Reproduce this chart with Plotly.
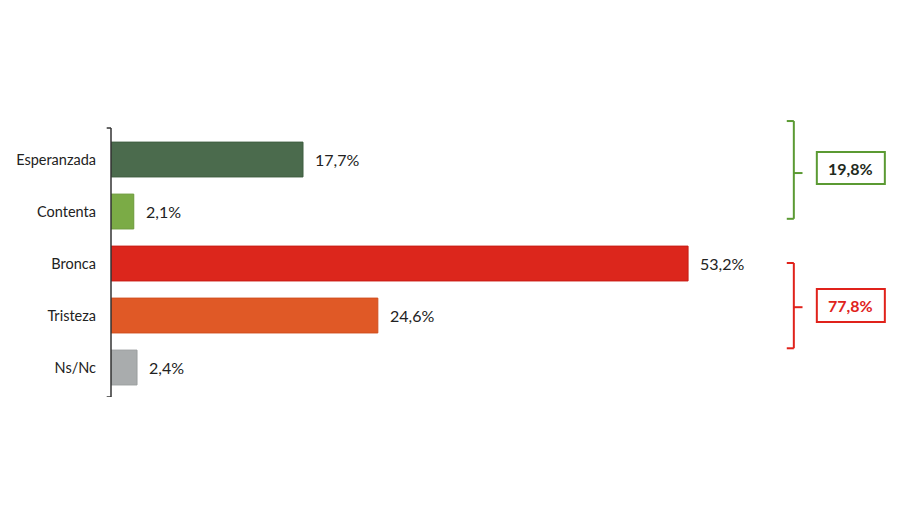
import plotly.graph_objects as go

categories = ["Esperanzada", "Contenta", "Bronca", "Tristeza", "Ns/Nc"]
values = [17.7, 2.1, 53.2, 24.6, 2.4]
colors = ["#4b6b4d", "#7bab46", "#dc261c", "#e05926", "#a9acad"]
outlines = ["#3f5e41", "#6c9a3a", "#c81c14", "#d04e1e", "#9a9d9e"]
group_labels = ["19,8%", "77,8%"]
group_colors = ["#5b9a33", "#e0221b"]
group_text_colors = ["#1f2a20", "#e0221b"]

FONT = "Lato"
ypos = list(range(len(categories)))

fig = go.Figure()
fig.add_trace(go.Bar(
    x=values, y=ypos, orientation="h",
    marker=dict(color=colors, line=dict(color=outlines, width=1)),
    width=0.67, hoverinfo="skip",
))

for v, y in zip(values, ypos):
    fig.add_annotation(x=v, y=y, xref="x", yref="y", text=f"{v:.1f}%".replace(".", ","),
                       showarrow=False, xanchor="left", xshift=10,
                       font=dict(family=FONT, size=16, color="#222222"))

# axis bracket "]"
shapes = []
axc = "#333333"
ytop, ybot = -0.606, 4.567
shapes.append(dict(type="line", xref="paper", yref="y", x0=0, x1=0, y0=ytop, y1=ybot, line=dict(color=axc, width=1.5)))
for yy in (ytop, ybot):
    shapes.append(dict(type="line", xref="paper", yref="y", x0=-0.0055, x1=0, y0=yy, y1=yy, line=dict(color=axc, width=1.5)))

# group braces and boxes
groups = [
    dict(y0=-0.74, y1=1.14, ym=0.26, by0=-0.144, by1=0.471),
    dict(y0=1.99, y1=3.63, ym=2.84, by0=2.49, by1=3.125),
]
bx = 62.95
for g, lab, col, tcol in zip(groups, group_labels, group_colors, group_text_colors):
    shapes.append(dict(type="line", x0=bx, x1=bx, y0=g["y0"], y1=g["y1"], line=dict(color=col, width=2)))
    shapes.append(dict(type="line", x0=bx - 0.65, x1=bx, y0=g["y0"], y1=g["y0"], line=dict(color=col, width=2)))
    shapes.append(dict(type="line", x0=bx - 0.65, x1=bx, y0=g["y1"], y1=g["y1"], line=dict(color=col, width=2)))
    shapes.append(dict(type="line", x0=bx, x1=bx + 0.8, y0=g["ym"], y1=g["ym"], line=dict(color=col, width=2)))
    shapes.append(dict(type="rect", x0=65.07, x1=71.34, y0=g["by0"], y1=g["by1"], line=dict(color=col, width=2)))
    fig.add_annotation(x=(65.07 + 71.34) / 2, y=(g["by0"] + g["by1"]) / 2, text=f"<b>{lab}</b>",
                       showarrow=False, font=dict(family=FONT, size=16, color=tcol))

for s in shapes:
    s.setdefault("xref", "x")
    s.setdefault("yref", "y")

fig.update_layout(
    width=892, height=499,
    margin=dict(l=103, r=8, t=112, b=110),
    paper_bgcolor="white", plot_bgcolor="white",
    showlegend=False,
    shapes=shapes,
    xaxis=dict(range=[0, 72], visible=False, fixedrange=True),
    yaxis=dict(range=[ybot, -0.76], tickvals=ypos, ticktext=categories, showline=False,
               showgrid=False, zeroline=False, ticks="", ticklabelstandoff=14,
               tickfont=dict(family=FONT, size=14.5, color="#222222")),
    font=dict(family=FONT),
)

fig.write_html("out.html")
